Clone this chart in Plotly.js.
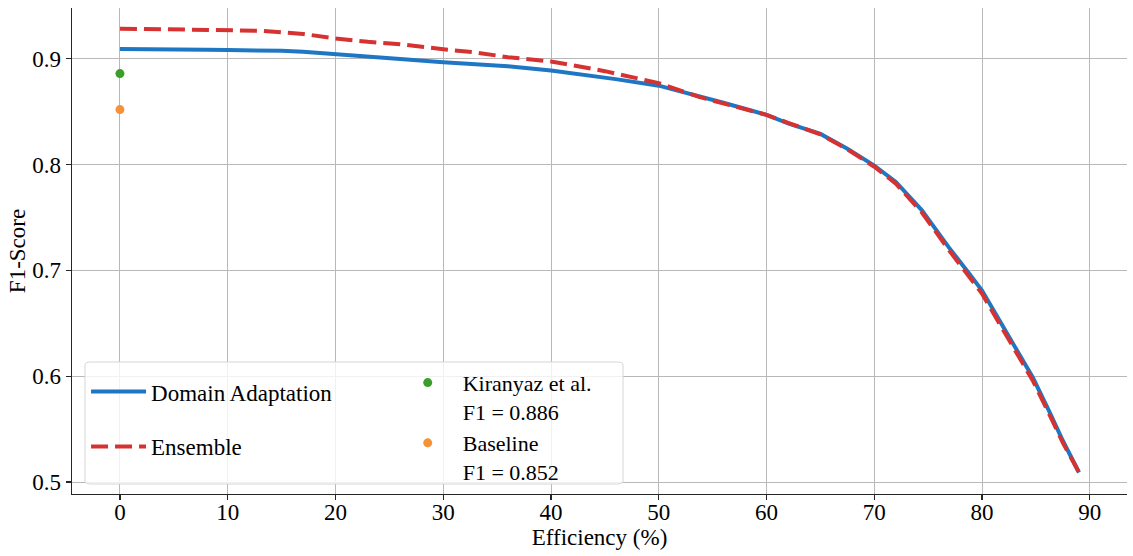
<!DOCTYPE html>
<html>
<head>
<meta charset="utf-8">
<script src="https://cdn.plot.ly/plotly-3.0.1.min.js"></script>
<style>
html,body{margin:0;padding:0;background:#fff;}
#chart{width:1133px;height:556px;}
</style>
</head>
<body>
<div id="chart"></div>
<script>
// Efficiency (%) vs F1-Score
const daX = [0, 2, 5, 8, 10, 13, 15, 17, 20, 23, 26, 30, 33, 36, 40, 43, 46, 50, 53, 56, 60, 62, 65, 67.5, 70, 72, 74.4, 76.9, 78.8, 80, 82, 84.7, 86.2, 87.5, 89];
const daY = [0.9093, 0.9093, 0.9090, 0.9085, 0.9083, 0.9083, 0.9075, 0.9066, 0.9041, 0.9020, 0.8998, 0.8968, 0.8948, 0.8930, 0.8889, 0.8850, 0.8808, 0.8746, 0.8670, 0.8585, 0.8470, 0.8390, 0.8290, 0.8150, 0.7990, 0.7836, 0.7570, 0.7220, 0.6970, 0.6810, 0.6460, 0.5990, 0.5675, 0.5390, 0.5090];

const ensX = [0, 5, 10, 13, 17, 20, 23, 26, 30, 33, 36, 40, 45, 50, 53.8, 57, 60, 62, 65, 67.5, 70, 72, 74.4, 76.9, 78.8, 80, 82, 84.7, 86.2, 87.5, 89];
const ensY = [0.9285, 0.9280, 0.9270, 0.9265, 0.9235, 0.9192, 0.9160, 0.9138, 0.9090, 0.9060, 0.9015, 0.8975, 0.8883, 0.8770, 0.8638, 0.8555, 0.8470, 0.8395, 0.8285, 0.8145, 0.7980, 0.7820, 0.7550, 0.7195, 0.6940, 0.6780, 0.6430, 0.5960, 0.5650, 0.5370, 0.5090];

const kiranyazX = [0];
const kiranyazY = [0.886];
const baselineX = [0];
const baselineY = [0.852];

const seriesNames = ["Domain Adaptation", "Ensemble", "Kiranyaz et al.<br>F1 = 0.886", "Baseline<br>F1 = 0.852"];
const xTicks = [0, 10, 20, 30, 40, 50, 60, 70, 80, 90];
const yTicks = [0.5, 0.6, 0.7, 0.8, 0.9];
const yTickText = ["0.5", "0.6", "0.7", "0.8", "0.9"];

const FONT = "'Liberation Serif', 'DejaVu Serif', serif";

const traces = [
  {x: daX, y: daY, name: seriesNames[0], mode: "lines", type: "scatter",
   line: {color: "#1f77c4", width: 4}, legend: "legend", legendgroup: "a"},
  {x: ensX, y: ensY, name: seriesNames[1], mode: "lines", type: "scatter",
   line: {color: "#d63232", width: 4, dash: "17px,7px"}, legend: "legend", legendgroup: "b"},
  {x: kiranyazX, y: kiranyazY, name: seriesNames[2], mode: "markers", type: "scatter",
   marker: {color: "#3a9e2a", size: 9}, legend: "legend2", legendgroup: "c"},
  {x: baselineX, y: baselineY, name: seriesNames[3], mode: "markers", type: "scatter",
   marker: {color: "#f39237", size: 9}, legend: "legend2", legendgroup: "d"}
];

function rrect(x0, y0, x1, y1, r) {
  return `M${x0 + r},${y0} L${x1 - r},${y0} Q${x1},${y0} ${x1},${y0 + r} L${x1},${y1 - r} Q${x1},${y1} ${x1 - r},${y1} L${x0 + r},${y1} Q${x0},${y1} ${x0},${y1 - r} L${x0},${y0 + r} Q${x0},${y0} ${x0 + r},${y0} Z`;
}

const layout = {
  width: 1133, height: 556,
  margin: {l: 72, r: 6, t: 8, b: 62},
  paper_bgcolor: "#fff", plot_bgcolor: "#fff",
  font: {family: FONT, size: 23, color: "#000"},
  xaxis: {
    range: [-4.45, 93.45], tickvals: xTicks, ticks: "outside", ticklen: 5, tickwidth: 1.2,
    tickcolor: "#262626", showline: true, linecolor: "#262626", linewidth: 1.3,
    showgrid: true, gridcolor: "#b8b8b8", gridwidth: 1, zeroline: false,
    tickfont: {family: FONT, size: 23, color: "#000"}, ticklabelstandoff: -8,
    title: {text: "Efficiency (%)", font: {family: FONT, size: 23, color: "#000"}, standoff: 4}
  },
  yaxis: {
    range: [0.4887, 0.948], tickvals: yTicks, ticktext: yTickText, ticks: "outside", ticklen: 5, tickwidth: 1.2,
    tickcolor: "#262626", showline: true, linecolor: "#262626", linewidth: 1.3,
    showgrid: true, gridcolor: "#b8b8b8", gridwidth: 1, zeroline: false,
    tickfont: {family: FONT, size: 23, color: "#000"},
    title: {text: "F1-Score", font: {family: FONT, size: 23, color: "#000"}, standoff: 0}
  },
  showlegend: true,
  legend: {
    x: 0.0133, y: 0.255, xanchor: "left", yanchor: "top", bgcolor: "rgba(0,0,0,0)",
    borderwidth: 0, font: {family: FONT, size: 23, color: "#000"}, tracegroupgap: 22,
    itemwidth: 55
  },
  legend2: {
    x: 0.304, y: 0.272, xanchor: "left", yanchor: "top", bgcolor: "rgba(0,0,0,0)",
    borderwidth: 0, font: {family: FONT, size: 22, color: "#000"}, tracegroupgap: 0,
    itemwidth: 60, valign: "top"
  },
  shapes: [{
    type: "path", xref: "paper", yref: "paper",
    path: rrect(0.0123, 0.0206, 0.5223, 0.2716, 0.006),
    fillcolor: "rgba(255,255,255,0.8)", line: {color: "#d6d6d6", width: 1}, layer: "above"
  }]
};

Plotly.newPlot("chart", traces, layout, {displayModeBar: false, staticPlot: true});
</script>
</body>
</html>
